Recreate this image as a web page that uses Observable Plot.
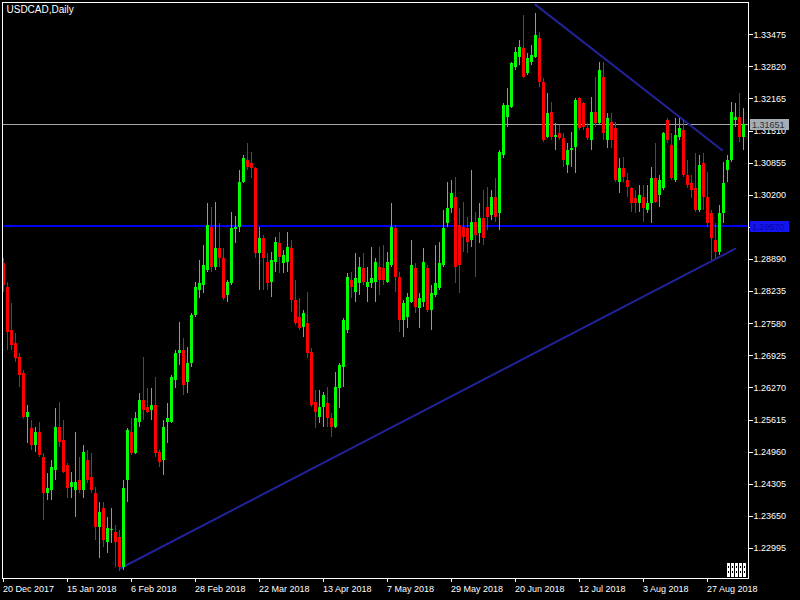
<!DOCTYPE html>
<html><head><meta charset="utf-8">
<script src="https://cdn.jsdelivr.net/npm/d3@7"></script>
<script src="https://cdn.jsdelivr.net/npm/@observablehq/plot@0.6"></script>
<style>
html,body{margin:0;padding:0;background:#000;}
#chart{width:800px;height:600px;overflow:hidden;position:relative;}
#chart svg{shape-rendering:crispEdges;display:block;}
#chart svg g[aria-label="line"] path{shape-rendering:auto;}
</style></head><body><div id="chart"></div>
<script>
const title = "USDCAD,Daily";

const open = [
1.2881,1.2832,1.2744,1.2718,1.2689,1.2657,1.2567,1.2544,1.2510,1.2536,
1.2485,1.2412,1.2418,1.2459,1.2546,1.2520,1.2469,1.2424,1.2418,1.2438,
1.2418,1.2479,1.2444,1.2412,1.2342,1.2381,1.2312,1.2336,1.2332,1.2322,
1.2261,1.2438,1.2536,1.2493,1.2557,1.2602,1.2587,1.2581,1.2591,1.2495,
1.2479,1.2557,1.2557,1.2642,1.2697,1.2704,1.2638,1.2677,1.2775,1.2826,
1.2836,1.2867,1.2954,1.2873,1.2912,1.2891,1.2816,1.2840,1.2950,1.2954,
1.3046,1.3091,1.3085,1.3075,1.2901,1.2932,1.2883,1.2842,1.2883,1.2922,
1.2881,1.2883,1.2912,1.2806,1.2771,1.2750,1.2759,1.2699,1.2597,1.2567,
1.2587,1.2595,1.2565,1.2546,1.2626,1.2669,1.2744,1.2846,1.2822,1.2840,
1.2871,1.2832,1.2840,1.2842,1.2873,1.2871,1.2842,1.2877,1.2952,1.2852,
1.2765,1.2771,1.2801,1.2871,1.2789,1.2801,1.2871,1.2785,1.2816,1.2830,
1.2877,1.2963,1.2993,1.3016,1.2959,1.2954,1.2952,1.2928,1.2965,1.2942,
1.2973,1.2995,1.2979,1.3016,1.2983,1.3101,1.3179,1.3199,1.3281,1.3301,
1.3320,1.3269,1.3291,1.3301,1.3340,1.3250,1.3138,1.3189,1.3138,1.3146,
1.3136,1.3081,1.3112,1.3118,1.3218,1.3207,1.3156,1.3132,1.3189,1.3167,
1.3260,1.3132,1.3169,1.3156,1.3046,1.3075,1.3050,1.3034,1.3014,1.3003,
1.3016,1.2989,1.3003,1.3054,1.3020,1.3034,1.3173,1.3122,1.3050,1.3138,
1.3152,1.3061,1.3044,1.3034,1.2989,1.3085,1.3016,1.2983,1.2928,1.2903,
1.2983,1.3071,1.3091,1.3173,1.3179,1.3138
];
const high = [
1.2891,1.2842,1.2799,1.2738,1.2697,1.2663,1.2591,1.2561,1.2546,1.2557,
1.2493,1.2453,1.2479,1.2585,1.2597,1.2561,1.2473,1.2455,1.2536,1.2485,
1.2510,1.2500,1.2493,1.2424,1.2393,1.2393,1.2363,1.2381,1.2347,1.2336,
1.2438,1.2544,1.2565,1.2577,1.2616,1.2689,1.2626,1.2626,1.2648,1.2500,
1.2561,1.2595,1.2653,1.2704,1.2761,1.2728,1.2710,1.2779,1.2842,1.2887,
1.2918,1.3003,1.2995,1.3005,1.2963,1.2912,1.2846,1.2985,1.2977,1.3071,
1.3101,1.3126,1.3107,1.3077,1.2954,1.2938,1.2901,1.2903,1.2934,1.2944,
1.2908,1.2944,1.2928,1.2846,1.2810,1.2785,1.2822,1.2708,1.2622,1.2622,
1.2618,1.2628,1.2575,1.2659,1.2677,1.2769,1.2861,1.2863,1.2901,1.2893,
1.2901,1.2873,1.2914,1.2891,1.2914,1.2918,1.2903,1.3003,1.2959,1.2863,
1.2806,1.2820,1.2928,1.2881,1.2820,1.2912,1.2877,1.2836,1.2918,1.2924,
1.2989,1.3046,1.3050,1.3056,1.2993,1.3005,1.2975,1.3071,1.2985,1.3003,
1.3030,1.3036,1.3030,1.3054,1.3112,1.3207,1.3238,1.3291,1.3322,1.3336,
1.3387,1.3309,1.3326,1.3391,1.3352,1.3258,1.3228,1.3209,1.3167,1.3163,
1.3146,1.3126,1.3148,1.3218,1.3220,1.3209,1.3167,1.3220,1.3260,1.3291,
1.3291,1.3187,1.3187,1.3169,1.3095,1.3097,1.3065,1.3036,1.3030,1.3040,
1.3040,1.3040,1.3077,1.3126,1.3061,1.3148,1.3177,1.3146,1.3177,1.3177,
1.3173,1.3091,1.3061,1.3105,1.3101,1.3105,1.3067,1.2989,1.2963,1.2999,
1.3087,1.3101,1.3209,1.3207,1.3228,1.3197
];
const low = [
1.2822,1.2704,1.2704,1.2679,1.2628,1.2563,1.2514,1.2500,1.2495,1.2485,
1.2357,1.2398,1.2398,1.2438,1.2506,1.2453,1.2402,1.2402,1.2363,1.2412,
1.2402,1.2432,1.2412,1.2316,1.2279,1.2302,1.2289,1.2310,1.2260,1.2252,
1.2255,1.2393,1.2489,1.2491,1.2546,1.2561,1.2575,1.2561,1.2485,1.2465,
1.2449,1.2514,1.2555,1.2626,1.2673,1.2612,1.2616,1.2669,1.2771,1.2810,
1.2820,1.2863,1.2863,1.2867,1.2873,1.2806,1.2801,1.2836,1.2922,1.2944,
1.3044,1.3071,1.3054,1.2891,1.2826,1.2826,1.2826,1.2812,1.2863,1.2861,
1.2861,1.2863,1.2781,1.2755,1.2744,1.2730,1.2687,1.2587,1.2544,1.2555,
1.2546,1.2546,1.2526,1.2544,1.2585,1.2628,1.2738,1.2810,1.2801,1.2816,
1.2836,1.2801,1.2830,1.2801,1.2816,1.2836,1.2840,1.2873,1.2822,1.2740,
1.2730,1.2748,1.2799,1.2779,1.2748,1.2791,1.2781,1.2744,1.2812,1.2826,
1.2873,1.2954,1.2983,1.2840,1.2820,1.2903,1.2901,1.2914,1.2852,1.2922,
1.2918,1.2948,1.2969,1.2965,1.2948,1.3095,1.3158,1.3197,1.3275,1.3285,
1.3258,1.3265,1.3285,1.3299,1.3240,1.3128,1.3136,1.3132,1.3112,1.3132,
1.3077,1.3065,1.3077,1.3065,1.3152,1.3152,1.3132,1.3112,1.3158,1.3163,
1.3132,1.3116,1.3116,1.3046,1.3024,1.3046,1.3016,1.2985,1.2983,1.2985,
1.2965,1.2983,1.2963,1.3003,1.2995,1.3030,1.3126,1.3050,1.3046,1.3132,
1.3056,1.3034,1.3014,1.2985,1.2985,1.2989,1.2954,1.2887,1.2891,1.2897,
1.2963,1.3046,1.3087,1.3158,1.3128,1.3112
];
const close = [
1.2836,1.2740,1.2714,1.2687,1.2653,1.2567,1.2577,1.2510,1.2536,1.2489,
1.2412,1.2422,1.2465,1.2546,1.2516,1.2455,1.2422,1.2434,1.2434,1.2418,
1.2495,1.2438,1.2418,1.2342,1.2373,1.2316,1.2340,1.2338,1.2312,1.2261,
1.2422,1.2540,1.2493,1.2565,1.2602,1.2581,1.2577,1.2591,1.2493,1.2475,
1.2546,1.2565,1.2648,1.2697,1.2704,1.2632,1.2677,1.2775,1.2832,1.2840,
1.2877,1.2959,1.2873,1.2912,1.2891,1.2810,1.2842,1.2952,1.2954,1.3046,
1.3095,1.3077,1.3075,1.2901,1.2932,1.2891,1.2840,1.2887,1.2924,1.2893,
1.2897,1.2914,1.2806,1.2759,1.2748,1.2779,1.2697,1.2591,1.2577,1.2587,
1.2612,1.2565,1.2546,1.2628,1.2673,1.2765,1.2852,1.2832,1.2850,1.2873,
1.2842,1.2842,1.2850,1.2883,1.2846,1.2846,1.2883,1.2954,1.2852,1.2765,
1.2799,1.2812,1.2877,1.2791,1.2810,1.2883,1.2785,1.2820,1.2840,1.2881,
1.2952,1.2993,1.3024,1.2873,1.2877,1.2934,1.2924,1.2965,1.2938,1.2973,
1.2932,1.2975,1.3016,1.2975,1.3107,1.3203,1.3203,1.3289,1.3311,1.3322,
1.3260,1.3299,1.3305,1.3346,1.3250,1.3132,1.3187,1.3138,1.3142,1.3136,
1.3091,1.3112,1.3116,1.3214,1.3156,1.3158,1.3136,1.3189,1.3167,1.3275,
1.3146,1.3177,1.3132,1.3050,1.3075,1.3056,1.3036,1.3003,1.3003,1.3020,
1.2993,1.3003,1.3054,1.3005,1.3050,1.3146,1.3132,1.3054,1.3142,1.3156,
1.3061,1.3040,1.3030,1.2989,1.3081,1.3016,1.2963,1.2932,1.2903,1.2983,
1.3044,1.3091,1.3189,1.3179,1.3138,1.31651
];

const xTickIdx = [0,16,32,48,64,80,96,112,128,144,160,176];
const xTickLabels = ["20 Dec 2017","15 Jan 2018","6 Feb 2018","28 Feb 2018","22 Mar 2018","13 Apr 2018","7 May 2018","29 May 2018","20 Jun 2018","12 Jul 2018","3 Aug 2018","27 Aug 2018"];
const yTicks = [1.22995,1.23650,1.24305,1.24960,1.25615,1.26270,1.26925,1.27580,1.28235,1.28890,1.29545,1.30200,1.30855,1.31510,1.32165,1.32820,1.33475];

const lastPrice = 1.31651;
const levelPrice = 1.29570;
const trendDownIdx = [133.1, 179.8];
const trendDownPrice = [1.3409, 1.3112];
const trendUpIdx = [29.4, 183.1];
const trendUpPrice = [1.2259, 1.2911];

const UP = "#00ff00", DOWN = "#ff0000";
const FONT = "'Liberation Sans', Arial, sans-serif";

const candles = open.map((o, i) => ({i, open: o, high: high[i], low: low[i], close: close[i],
  color: close[i] >= o ? UP : DOWN}));
const trendDown = trendDownIdx.map((i, k) => ({i, p: trendDownPrice[k]}));
const trendUp = trendUpIdx.map((i, k) => ({i, p: trendUpPrice[k]}));

const xDomain = [-0.125, 186.375];
const yDomain = [1.22381, 1.34134];

const plot = Plot.plot({
  width: 800, height: 600,
  marginLeft: 2, marginRight: 52, marginTop: 2, marginBottom: 22,
  style: {background: "#000", color: "#fff", fontFamily: FONT, fontSize: "9px"},
  x: {domain: xDomain, label: null},
  y: {domain: yDomain, label: null},
  color: {type: "identity"},
  marks: [
    Plot.ruleY([lastPrice], {stroke: "#a8a8a8", strokeWidth: 1}),
    Plot.ruleY([levelPrice], {stroke: "#0000f0", strokeWidth: 2}),
    Plot.line(trendDown, {x: "i", y: "p", stroke: "#22229a", strokeWidth: 2}),
    Plot.line(trendUp, {x: "i", y: "p", stroke: "#22229a", strokeWidth: 2}),
    Plot.ruleX(candles, {x: "i", y1: "low", y2: "high", stroke: "color", strokeWidth: 1, clip: true}),
    Plot.ruleX(candles, {x: "i", y1: "open", y2: "close", stroke: "color", strokeWidth: 3, clip: true}),
    Plot.frame({stroke: "#fff"}),
    Plot.axisY(yTicks, {anchor: "right", label: null, tickFormat: d => d.toFixed(5), tickSize: 4, tickPadding: 1, fontSize: 9}),
    Plot.axisX(xTickIdx, {anchor: "bottom", label: null, tickFormat: d => xTickLabels[xTickIdx.indexOf(d)], tickSize: 4, tickPadding: 3, textAnchor: "start", dx: 0, fontSize: 9}),
    Plot.text([title], {frameAnchor: "top-left", dx: 4, dy: 3, lineAnchor: "top", textAnchor: "start", fill: "#fff", fontSize: 10})
  ]
});

// price labels on the right price scale
const yPix = d3.scaleLinear(yDomain, [578, 2]);
const svg = d3.select(plot);
const tags = [
  {v: lastPrice, bg: "#a4acb4", fg: "#303030"},
  {v: levelPrice, bg: "#1414ee", fg: "#0808a8"}
];
for (const t of tags) {
  const y = Math.round(yPix(t.v));
  svg.append("rect").attr("x", 750).attr("y", y - 5).attr("width", 39).attr("height", 11).attr("fill", t.bg);
  svg.append("text").attr("x", 752).attr("y", y + 3.5).attr("fill", t.fg)
    .attr("text-anchor", "start")
    .attr("font-family", FONT).attr("font-size", 9).text(t.v.toFixed(5));
}
// chart-shift marker at bottom right
const mark = svg.append("g");
for (let k = 0; k < 5; k++) {
  mark.append("rect").attr("x", 727 + k * 4).attr("y", 563).attr("width", 3).attr("height", 14).attr("fill", "#fff");
  mark.append("rect").attr("x", 728 + k * 4).attr("y", 566).attr("width", 1).attr("height", 2).attr("fill", "#000");
  mark.append("rect").attr("x", 728 + k * 4).attr("y", 571).attr("width", 1).attr("height", 2).attr("fill", "#000");
}

document.getElementById("chart").appendChild(plot);
</script>
</body></html>
